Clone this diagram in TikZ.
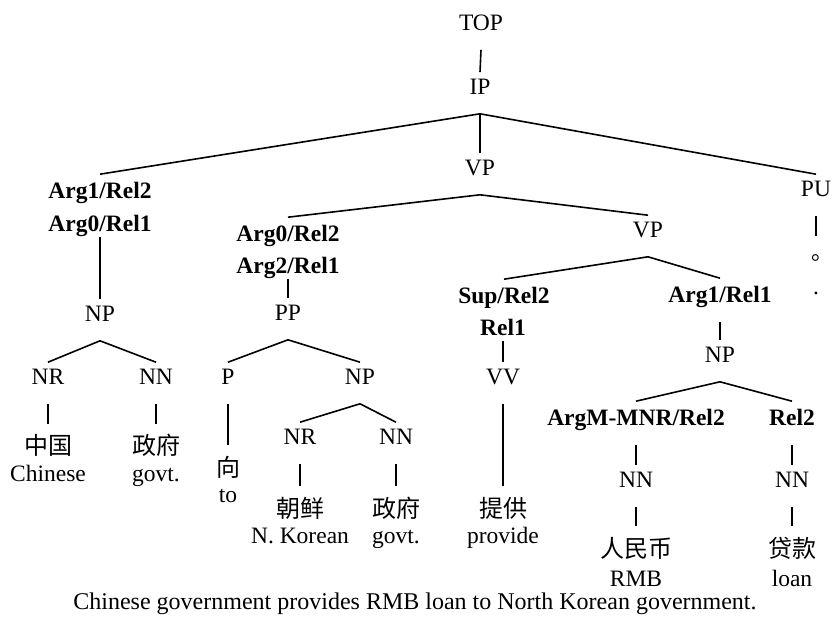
\documentclass[tikz,border=0pt]{standalone}
\usepackage{fontspec}
\setmainfont{Liberation Serif}
\newfontfamily\cjk{Noto Sans CJK SC}
\newfontfamily\cjktc{Noto Sans CJK TC}
\usepackage{tikz}

\begin{document}
\fontsize{23.5}{28}\selectfont
\begin{tikzpicture}[x=1pt, y=-1pt, line width=1.6pt,
  cat/.style={anchor=base, text height=16pt, text depth=12pt, inner ysep=6pt},
  role/.style={cat, text height=18pt, font=\bfseries},
  rolelow/.style={anchor=base, font=\bfseries, text height=16pt, text depth=0pt, inner ysep=4pt},
  word/.style={anchor=base, font=\cjk\fontsize{24}{28}\selectfont, text height=23pt, text depth=0pt, inner ysep=7pt},
  gloss/.style={anchor=base}]
\useasboundingbox (0,0) rectangle (833,617);

\node[cat] (top) at (481,31) {TOP};
\node[cat] (ip) at (480,95) {IP};
\node[cat] (vp) at (480,176) {VP};
\node[cat] (pu) at (816,197) {PU};

\node[role] (subjA) at (100,199) {Arg1/Rel2};
\node[rolelow] (subjB) at (100,232) {Arg0/Rel1};
\node[cat] (npA) at (100,322) {NP};
\node[cat] (nrA) at (48,385) {NR};
\node[cat] (nnA) at (156,385) {NN};
\node[word] (zhongguo) at (48,455) {中国};
\node[gloss] (chinese) at (48,482) {Chinese};
\node[word] (zhengfuA) at (156,455) {政府};
\node[gloss] (govtA) at (156,482) {govt.};

\node[role] (ppA) at (288,242) {Arg0/Rel2};
\node[rolelow] (ppB) at (288,274) {Arg2/Rel1};
\node[cat] (pp) at (288,321) {PP};
\node[cat] (p) at (228,385) {P};
\node[cat] (npB) at (360,385) {NP};
\node[word] (xiang) at (228,476) {向};
\node[gloss] (to) at (228,503) {to};
\node[cat] (nrB) at (300,445) {NR};
\node[cat] (nnB) at (396,445) {NN};
\node[word] (chaoxian) at (300,517) {朝鲜};
\node[gloss] (korean) at (300,543) {N. Korean};
\node[word] (zhengfuB) at (396,517) {政府};
\node[gloss] (govtB) at (396,543) {govt.};

\node[cat] (vpB) at (648,238) {VP};
\node[role] (vvA) at (504,304) {Sup/Rel2};
\node[rolelow] (vvB) at (503,336) {Rel1};
\node[cat] (vv) at (503,385) {VV};
\node[word] (tigong) at (503,517) {提供};
\node[gloss] (provide) at (503,543) {provide};

\node[role] (objA) at (720,303) {Arg1/Rel1};
\node[cat] (npC) at (720,363) {NP};
\node[role] (mnr) at (636,426) {ArgM-MNR/Rel2};
\node[role] (rel) at (792,426) {Rel2};
\node[cat] (nnC) at (636,488) {NN};
\node[cat] (nnD) at (792,488) {NN};
\node[word] (renminbi) at (636,557) {人民币};
\node[gloss] (rmb) at (636,586) {RMB};
\node[word] (daikuan) at (792,557) {贷款};
\node[gloss] (loan) at (792,586) {loan};

\node[word, font=\cjktc\fontsize{22.5}{27}\selectfont] (juhao) at (816,267) {。};
\node[gloss] (dot) at (816,295) {.};

\node[gloss, font=\fontsize{24}{28}\selectfont] (caption) at (415,609) {Chinese government provides RMB loan to North Korean government.};

\draw (top.south) -- (ip.north);
\draw (ip.south) -- (subjA.north);
\draw (ip.south) -- (vp.north);
\draw (ip.south) -- (pu.north);
\draw (pu.south) -- (juhao.north);
\draw (subjB.south) -- (npA.north);
\draw (npA.south) -- (nrA.north);
\draw (npA.south) -- (nnA.north);
\draw (nrA.south) -- (zhongguo.north);
\draw (nnA.south) -- (zhengfuA.north);
\draw (vp.south) -- (ppA.north);
\draw (vp.south) -- (vpB.north);
\draw (ppB.south) -- (pp.north);
\draw (pp.south) -- (p.north);
\draw (pp.south) -- (npB.north);
\draw (p.south) -- (xiang.north);
\draw (npB.south) -- (nrB.north);
\draw (npB.south) -- (nnB.north);
\draw (nrB.south) -- (chaoxian.north);
\draw (nnB.south) -- (zhengfuB.north);
\draw (vpB.south) -- (vvA.north);
\draw (vpB.south) -- (objA.north);
\draw (vvB.south) -- (vv.north);
\draw (vv.south) -- (tigong.north);
\draw (objA.south) -- (npC.north);
\draw (npC.south) -- (mnr.north);
\draw (npC.south) -- (rel.north);
\draw (mnr.south) -- (nnC.north);
\draw (rel.south) -- (nnD.north);
\draw (nnC.south) -- (renminbi.north);
\draw (nnD.south) -- (daikuan.north);
\end{tikzpicture}
\end{document}
